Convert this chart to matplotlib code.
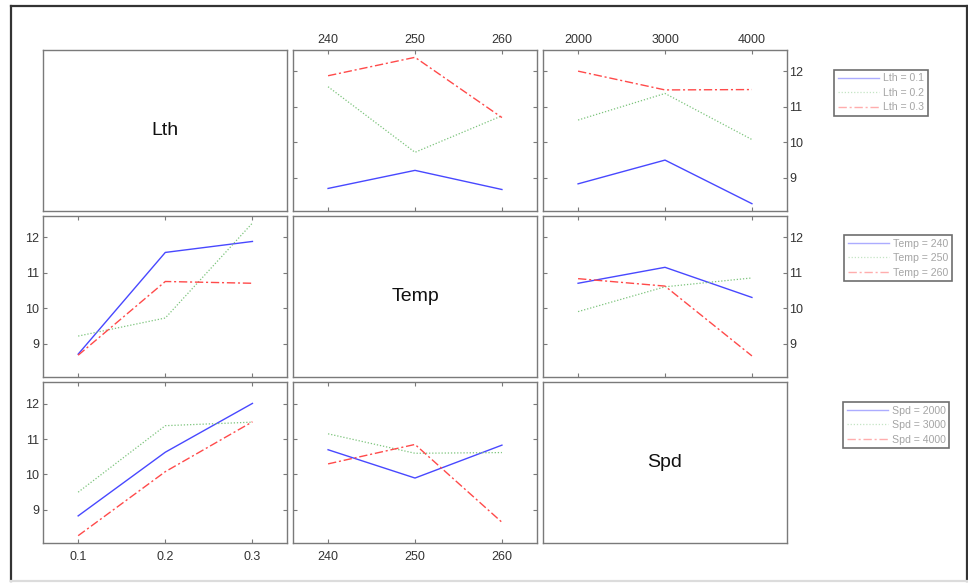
import matplotlib
matplotlib.use('Agg')
import matplotlib.pyplot as plt
from matplotlib.lines import Line2D

plt.rcParams['font.family'] = ['Liberation Sans', 'DejaVu Sans']

# Factors and their levels
factor_names = ['Lth', 'Temp', 'Spd']
lth_levels = [0.1, 0.2, 0.3]
temp_levels = [240, 250, 260]
spd_levels = [2000, 3000, 4000]
level_labels = [['0.1', '0.2', '0.3'],
                ['240', '250', '260'],
                ['2000', '3000', '4000']]

# Mean response for each pair of factors (rows: first factor, cols: second)
lth_temp_means = [[8.70, 9.21, 8.67],
                  [11.57, 9.72, 10.75],
                  [11.88, 12.40, 10.70]]
lth_spd_means = [[8.83, 9.50, 8.27],
                 [10.63, 11.38, 10.08],
                 [12.01, 11.48, 11.49]]
temp_spd_means = [[10.70, 11.15, 10.30],
                  [9.90, 10.60, 10.85],
                  [10.83, 10.62, 8.65]]

y_ticks = [9, 10, 11, 12]

levels = [lth_levels, temp_levels, spd_levels]
pair_means = {(0, 1): lth_temp_means, (0, 2): lth_spd_means, (1, 2): temp_spd_means}


def means_for(i, j):
    if (i, j) in pair_means:
        return pair_means[(i, j)]
    m = pair_means[(j, i)]
    return [[m[c][r] for c in range(3)] for r in range(3)]


line_colors = ['#4848ff', '#7cc47c', '#ff4a4a']
line_styles = ['-', (0, (1, 1.5)), (0, (6, 2, 1.5, 2))]
line_widths = [1.0, 0.9, 1.0]

W, H = 968, 583
fig = plt.figure(figsize=(W / 100, H / 100), dpi=100)

col_px = [(43.3, 287.3), (293.3, 536.7), (543.3, 786.7)]
row_px = [(50.0, 211.0), (215.7, 376.7), (382.3, 543.0)]

all_vals = [v for m in pair_means.values() for row in m for v in row]
lo, hi = min(all_vals), max(all_vals)
pad = 0.05 * (hi - lo)
ylim = (lo - pad, hi + pad)

spine_color = '#7a7a7a'
tick_color = '#7a7a7a'
label_color = '#333333'

for i in range(3):
    for j in range(3):
        x0, x1 = col_px[j]
        y0, y1 = row_px[i]
        ax = fig.add_axes([x0 / W, 1 - y1 / H, (x1 - x0) / W, (y1 - y0) / H])
        for s in ax.spines.values():
            s.set_color(spine_color)
            s.set_linewidth(1.0)
        if i == j:
            ax.set_xticks([])
            ax.set_yticks([])
            ax.text(0.5, 0.5, factor_names[i], transform=ax.transAxes,
                    ha='center', va='center', fontsize=14, color='#111111')
            continue
        xs = levels[j]
        m = means_for(i, j)
        for k in range(3):
            ax.plot(xs, m[k], color=line_colors[k], linestyle=line_styles[k],
                    linewidth=line_widths[k])
        span = xs[-1] - xs[0]
        ax.set_xlim(xs[0] - 0.2 * span, xs[-1] + 0.2 * span)
        ax.set_ylim(*ylim)
        ax.set_xticks(xs)
        ax.set_xticklabels(level_labels[j])
        ax.set_yticks(y_ticks)
        ax.set_yticklabels([str(t) for t in y_ticks])
        ax.tick_params(direction='in', length=3, width=0.8, color=tick_color,
                       labelsize=9, labelcolor=label_color,
                       top=True, bottom=True, left=True, right=True,
                       labeltop=(i == 0), labelbottom=(i == 2),
                       labelleft=(j == 0), labelright=(j == 2))
        ax.tick_params(axis='x', pad=3 if i == 0 else 6)
        ax.tick_params(axis='y', pad=3 if j == 0 else 2)

# Legends, one per grouping factor
legend_anchor_px = [(834.3, 69.7), (844.3, 235.0), (843.0, 402.0)]
for i in range(3):
    handles = [Line2D([], [], color=line_colors[k], linestyle=line_styles[k],
                      linewidth=line_widths[k], alpha=0.45) for k in range(3)]
    labels = [f'{factor_names[i]} = {lab}' for lab in level_labels[i]]
    ax_x, ay = legend_anchor_px[i]
    leg = fig.legend(handles, labels, loc='upper left',
                     bbox_to_anchor=(ax_x / W, 1 - ay / H), borderaxespad=0,
                     fontsize=7.6, labelcolor='#a5a5a5', frameon=True,
                     fancybox=False, edgecolor='#6e6e6e', framealpha=1,
                     handlelength=3.9, handletextpad=0.35, labelspacing=0.42,
                     borderpad=0.35)
    leg.get_frame().set_linewidth(1.2)

# Window frame
frame_kw = dict(transform=fig.transFigure, color='#333333', linewidth=1.6)
fig.add_artist(Line2D([10.5 / W, 966.5 / W], [1 - 6 / H, 1 - 6 / H], **frame_kw))
fig.add_artist(Line2D([10.5 / W, 10.5 / W], [1 - 6 / H, 1 - 581 / H], **frame_kw))
fig.add_artist(Line2D([966.5 / W, 966.5 / W], [1 - 6 / H, 1 - 581 / H], **frame_kw))
fig.add_artist(Line2D([10.5 / W, 966.5 / W], [1 - 581 / H, 1 - 581 / H],
                      transform=fig.transFigure, color='#dcdcdc', linewidth=1.6))

fig.savefig('out.png', dpi=100)
